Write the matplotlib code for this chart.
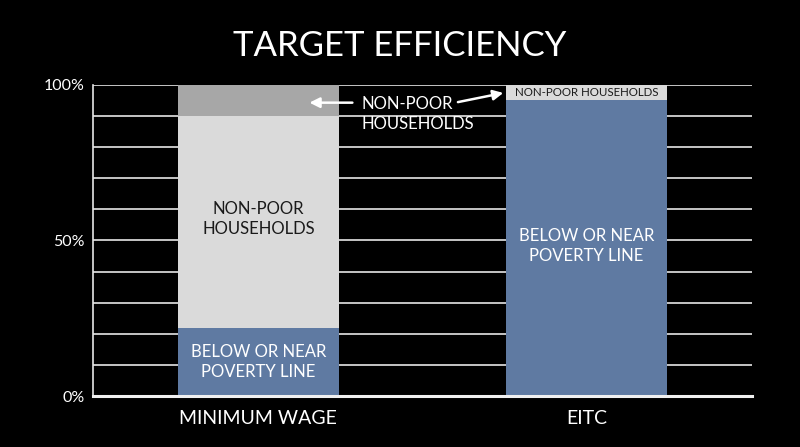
import matplotlib
matplotlib.use("Agg")
import matplotlib.pyplot as plt
import numpy as np

categories = ["MINIMUM WAGE", "EITC"]
below_poverty = [22, 95]
non_poor = [68, 5]
non_poor_top = [10, 0]
yticks = [0, 50, 100]
ytick_labels = ["0%", "50%", "100%"]

BLUE = "#5f7aa2"
LIGHT = "#dadada"
DARK = "#a7a7a7"
FONT = ["Lato", "DejaVu Sans"]

plt.rcParams["font.family"] = FONT

fig = plt.figure(figsize=(8, 4.47), dpi=100, facecolor="black")
ax = fig.add_axes([0.116, 0.114, 0.824, 0.696], facecolor="black")

x = np.arange(len(categories))
w = 0.49
b1 = np.array(below_poverty)
b2 = b1 + np.array(non_poor)
ax.bar(x, below_poverty, width=w, color=BLUE, zorder=3)
ax.bar(x, non_poor, bottom=b1, width=w, color=LIGHT, zorder=3)
ax.bar(x, non_poor_top, bottom=b2, width=w, color=DARK, zorder=3)

ax.set_xlim(-0.505, 1.505)
ax.set_ylim(0, 100)
for g in range(10, 101, 10):
    ax.axhline(g, color="#e6e6e6", lw=1.2, zorder=1)

ax.set_yticks(yticks)
ax.set_yticklabels(ytick_labels, color="white", fontsize=11.5)
ax.set_xticks(x)
ax.set_xticklabels(categories, color="white", fontsize=14)
ax.tick_params(axis="both", length=0)
ax.tick_params(axis="y", pad=6)
ax.tick_params(axis="x", pad=10)

for s in ["top", "right"]:
    ax.spines[s].set_visible(False)
ax.spines["left"].set_color("#e6e6e6")
ax.spines["left"].set_linewidth(1.2)
ax.spines["bottom"].set_color("#f0f0f0")
ax.spines["bottom"].set_linewidth(2.2)
ax.spines["bottom"].set_zorder(4)

# labels inside bars
ax.text(x[0], 57.0, "NON-POOR\nHOUSEHOLDS", ha="center", va="center",
        color="#1a1a1a", fontsize=12, linespacing=1.3, zorder=5)
ax.text(x[0], below_poverty[0] / 2, "BELOW OR NEAR\nPOVERTY LINE", ha="center", va="center",
        color="white", fontsize=12, linespacing=1.3, zorder=5)
ax.text(x[1], 48.3, "BELOW OR NEAR\nPOVERTY LINE", ha="center", va="center",
        color="white", fontsize=12, linespacing=1.3, zorder=5)
ax.text(x[1], b1[1] + non_poor[1] / 2, "NON-POOR HOUSEHOLDS", ha="center", va="center",
        color="#1a1a1a", fontsize=8.3, zorder=5)

# annotation
ax.text(0.315, 96.3, "NON-POOR\nHOUSEHOLDS", ha="left", va="top", color="white",
        fontsize=12, linespacing=1.3, zorder=5)
ax.annotate("", xy=(0.147, 94.3), xytext=(0.295, 94.3),
            arrowprops=dict(arrowstyle="-|>,head_length=0.6,head_width=0.3", color="white", lw=1.8),
            zorder=6)
ax.annotate("", xy=(0.755, 97.6), xytext=(0.6, 94.3),
            arrowprops=dict(arrowstyle="-|>,head_length=0.6,head_width=0.3", color="white", lw=1.8),
            zorder=6)

fig.text(0.5, 0.896, "TARGET EFFICIENCY", ha="center", va="center", color="white", fontsize=25)

fig.savefig("out.png", dpi=100, facecolor="black")
